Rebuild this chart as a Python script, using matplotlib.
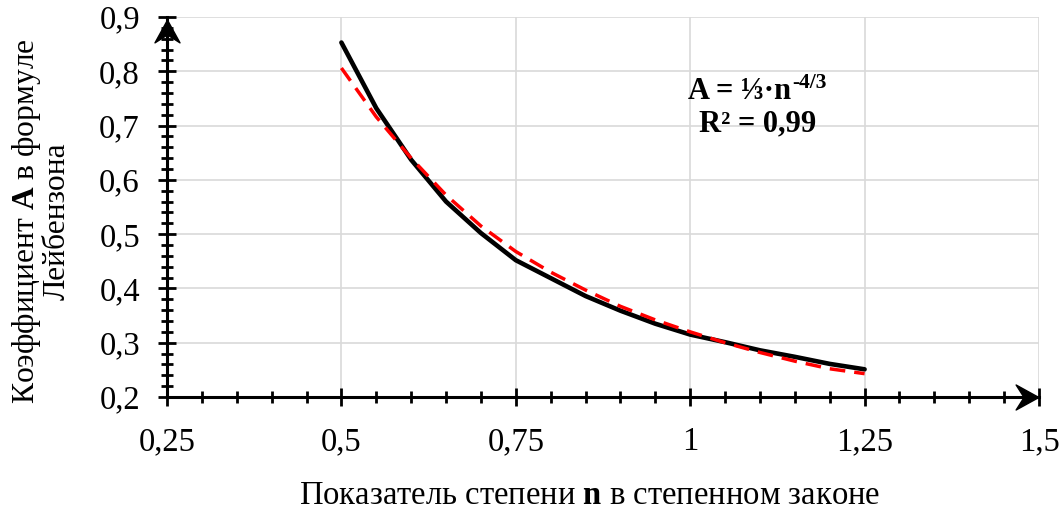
import matplotlib
matplotlib.use("Agg")
import matplotlib.pyplot as plt
from matplotlib.path import Path
from matplotlib.ticker import MultipleLocator, FuncFormatter

plt.rcParams['font.family'] = ['Liberation Serif', 'DejaVu Serif']
plt.rcParams['mathtext.fontset'] = 'custom'
plt.rcParams['mathtext.rm'] = 'Liberation Serif'
plt.rcParams['mathtext.bf'] = 'Liberation Serif:bold'

# power-law exponent n and coefficient A
n_values = [0.5, 0.55, 0.6, 0.65, 0.7, 0.75, 0.8, 0.85,
            0.9, 0.95, 1.0, 1.05, 1.1, 1.15, 1.2, 1.25]
a_values = [0.853, 0.732, 0.637, 0.560, 0.502, 0.452, 0.419, 0.386,
            0.359, 0.335, 0.315, 0.301, 0.286, 0.274, 0.261, 0.251]
# power trend line A = 1/3 * n^(-4/3)
a_trend = [0.806, 0.716, 0.640, 0.572, 0.515, 0.468, 0.430, 0.397,
           0.367, 0.342, 0.320, 0.300, 0.282, 0.266, 0.252, 0.243]

x_ticks = [0.25, 0.5, 0.75, 1.0, 1.25, 1.5]
y_ticks = [0.2, 0.3, 0.4, 0.5, 0.6, 0.7, 0.8, 0.9]


def comma(v, _pos=None):
    return f'{v:g}'.replace('.', ',')


fig = plt.figure(figsize=(10.63, 5.17), dpi=100)
ax = fig.add_axes([167 / 1063, 120 / 517, 872 / 1063, 380 / 517])

ax.plot(n_values, a_values, color='black', lw=3.3, solid_capstyle='round', zorder=3)
ax.plot(n_values, a_trend, color='#ff0000', lw=2.5, linestyle=(0, (4.5, 2.6)), zorder=4)

ax.set_xlim(0.25, 1.5)
ax.set_ylim(0.2, 0.9)
ax.set_xticks(x_ticks)
ax.set_yticks(y_ticks)
ax.xaxis.set_minor_locator(MultipleLocator(0.05))
ax.yaxis.set_minor_locator(MultipleLocator(0.02))
ax.xaxis.set_major_formatter(FuncFormatter(comma))
ax.yaxis.set_major_formatter(FuncFormatter(comma))

ax.grid(True, which='major', color='#d9d9d9', lw=1.2, zorder=0)
ax.set_axisbelow(True)

for side in ('top', 'right'):
    ax.spines[side].set_visible(False)
for side in ('left', 'bottom'):
    ax.spines[side].set_linewidth(2.2)
    ax.spines[side].set_zorder(5)

ax.tick_params(which='major', direction='inout', length=13, width=2, labelsize=23.5)
ax.tick_params(which='minor', direction='inout', length=9, width=2)
ax.tick_params(axis='y', which='major', pad=13)
ax.tick_params(axis='x', which='major', pad=15)

# stealth arrowheads at the ends of both axes
up = Path([(0, 0.5), (0.55, -0.5), (0, -0.15), (-0.55, -0.5), (0, 0.5)],
          [Path.MOVETO, Path.LINETO, Path.LINETO, Path.LINETO, Path.CLOSEPOLY])
right = Path([(0.5, 0), (-0.5, 0.55), (-0.15, 0), (-0.5, -0.55), (0.5, 0)],
             [Path.MOVETO, Path.LINETO, Path.LINETO, Path.LINETO, Path.CLOSEPOLY])
ax.plot([0], [0.962], marker=up, ms=18, color='black', transform=ax.transAxes,
        clip_on=False, zorder=6)
ax.plot([0.9857], [0], marker=right, ms=18, color='black', transform=ax.transAxes,
        clip_on=False, zorder=6)

# equation of the trend line
t1 = ax.text(0.997, 0.7484, 'A = ⅓·n', fontsize=22, fontweight='bold',
             ha='left', va='baseline', zorder=7)
ax.annotate('-4/3', xy=(1, 0), xycoords=t1, xytext=(1, 13),
            textcoords='offset points', fontsize=15.5, fontweight='bold',
            ha='left', va='baseline', zorder=7)
ax.text(1.097, 0.6887, 'R² = 0,99', fontsize=22, fontweight='bold',
        ha='center', va='baseline', zorder=7)

fig.text(590 / 1063, 1 - 496 / 517, r'Показатель степени $\mathbf{n}$ в степенном законе',
         fontsize=23.5, ha='center', va='center')
fig.text(41 / 1063, 1 - 221 / 517, 'Коэффициент $\\mathbf{A}$ в формуле\nЛейбензона',
         fontsize=22.7, ha='center', va='center', rotation=90, multialignment='center',
         linespacing=1.0)

fig.savefig('out.png', dpi=100)
